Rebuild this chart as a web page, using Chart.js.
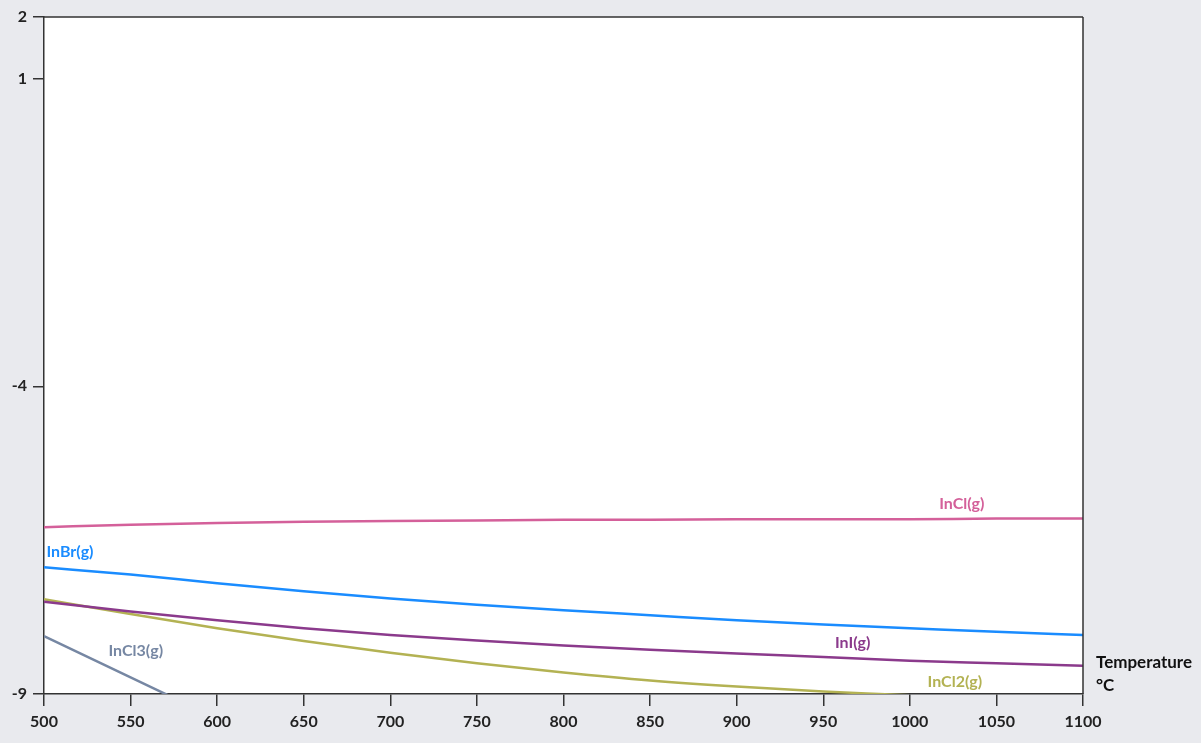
<!DOCTYPE html>
<html>
<head>
<meta charset="utf-8">
<script src="https://cdn.jsdelivr.net/npm/chart.js@4/dist/chart.umd.min.js"></script>
<style>
  html, body { margin: 0; padding: 0; background: #e9eaee; }
  #wrap { width: 1201px; height: 743px; }
</style>
</head>
<body>
<div id="wrap"><canvas id="chart"></canvas></div>
<script>
// temperatures (°C)
const temps = [500, 550, 600, 650, 700, 750, 800, 850, 900, 950, 1000, 1050, 1100];
const yTicks = [2, 1, -4, -9];
const xTicks = [500, 550, 600, 650, 700, 750, 800, 850, 900, 950, 1000, 1050, 1100];

const inCl  = [-6.29, -6.25, -6.22, -6.20, -6.19, -6.18, -6.17, -6.17, -6.16, -6.16, -6.16, -6.15, -6.15];
const inBr  = [-6.94, -7.06, -7.20, -7.33, -7.45, -7.55, -7.64, -7.72, -7.80, -7.87, -7.93, -7.99, -8.04];
const inI   = [-7.50, -7.66, -7.80, -7.93, -8.04, -8.13, -8.21, -8.28, -8.34, -8.40, -8.46, -8.50, -8.54];
const inCl2 = [-7.46, -7.70, -7.93, -8.14, -8.33, -8.50, -8.65, -8.78, -8.88, -8.96, -9.02, -9.10, -9.17];
const inCl3Temps = [500, 550, 600];
const inCl3 = [-8.06, -8.73, -9.40];

function pts(xs, ys) { return xs.map((x, i) => ({ x: x, y: ys[i] })); }

const series = [
  { name: 'InCl(g)',  data: pts(temps, inCl),  color: '#d4609a', lx: 1030, ly: -5.91 },
  { name: 'InBr(g)',  data: pts(temps, inBr),  color: '#1a8cff', lx: 515,  ly: -6.69 },
  { name: 'InCl3(g)', data: pts(inCl3Temps, inCl3), color: '#7687a3', lx: 553, ly: -8.30 },
  { name: 'InI(g)',   data: pts(temps, inI),   color: '#8b3a8c', lx: 967,  ly: -8.17 },
  { name: 'InCl2(g)', data: pts(temps, inCl2), color: '#b3b253', lx: 1026, ly: -8.80 }
];

const frame = {
  id: 'frame',
  beforeDraw(chart) {
    const { ctx, chartArea: a } = chart;
    ctx.save();
    ctx.fillStyle = '#ffffff';
    ctx.fillRect(a.left, a.top, a.right - a.left, a.bottom - a.top);
    ctx.restore();
  },
  afterDraw(chart) {
    const { ctx, chartArea: a, scales } = chart;
    ctx.save();
    ctx.strokeStyle = '#333333';
    ctx.lineWidth = 1.5;
    ctx.beginPath();
    ctx.moveTo(a.left, a.top);
    ctx.lineTo(a.right, a.top);
    ctx.moveTo(a.right, a.top);
    ctx.lineTo(a.right, a.bottom);
    ctx.stroke();
    ctx.font = 'bold 16px Lato, "Open Sans", sans-serif';
    ctx.textBaseline = 'middle';
    ctx.textAlign = 'center';
    series.forEach(s => {
      ctx.fillStyle = s.color;
      const x = scales.x.getPixelForValue(s.lx);
      const y = scales.y.getPixelForValue(s.ly);
      ctx.fillText(s.name, x, y);
    });
    ctx.textAlign = 'left';
    ctx.fillStyle = '#111111';
    ctx.font = 'bold 17px Lato, "Open Sans", sans-serif';
    ctx.fillText('Temperature', a.right + 13, a.bottom - 31);
    ctx.fillText('°C', a.right + 13, a.bottom - 8);
    ctx.restore();
  }
};

new Chart(document.getElementById('chart').getContext('2d'), {
  type: 'line',
  data: {
    datasets: series.map(s => ({
      label: s.name,
      data: s.data,
      borderColor: s.color,
      borderWidth: 2.5,
      pointRadius: 0,
      cubicInterpolationMode: 'monotone',
      fill: false
    }))
  },
  options: {
    responsive: true,
    maintainAspectRatio: false,
    animation: false,
    layout: { padding: { top: 17, right: 118, left: 0, bottom: 0 } },
    plugins: { legend: { display: false }, tooltip: { enabled: false } },
    scales: {
      x: {
        type: 'linear',
        min: 500,
        max: 1100,
        afterBuildTicks: axis => { axis.ticks = xTicks.map(v => ({ value: v })); },
        afterFit: axis => { axis.height = 49; },
        border: { color: '#333333', width: 1.5 },
        grid: { drawOnChartArea: false, color: '#333333', lineWidth: 1.5, tickLength: 12 },
        ticks: {
          color: '#222222', padding: 6, maxRotation: 0,
          callback: v => String(v),
          font: { family: 'Lato, "Open Sans", sans-serif', size: 16, weight: 'bold' }
        }
      },
      y: {
        min: -9,
        max: 2,
        afterBuildTicks: axis => { axis.ticks = yTicks.map(v => ({ value: v })); },
        afterFit: axis => { axis.width = 44; },
        border: { color: '#333333', width: 1.5 },
        grid: { drawOnChartArea: false, color: '#333333', lineWidth: 1.5, tickLength: 11 },
        ticks: {
          color: '#222222', padding: 6,
          callback: v => String(v),
          font: { family: 'Lato, "Open Sans", sans-serif', size: 16, weight: 'bold' }
        }
      }
    }
  },
  plugins: [frame]
});
</script>
</body>
</html>
